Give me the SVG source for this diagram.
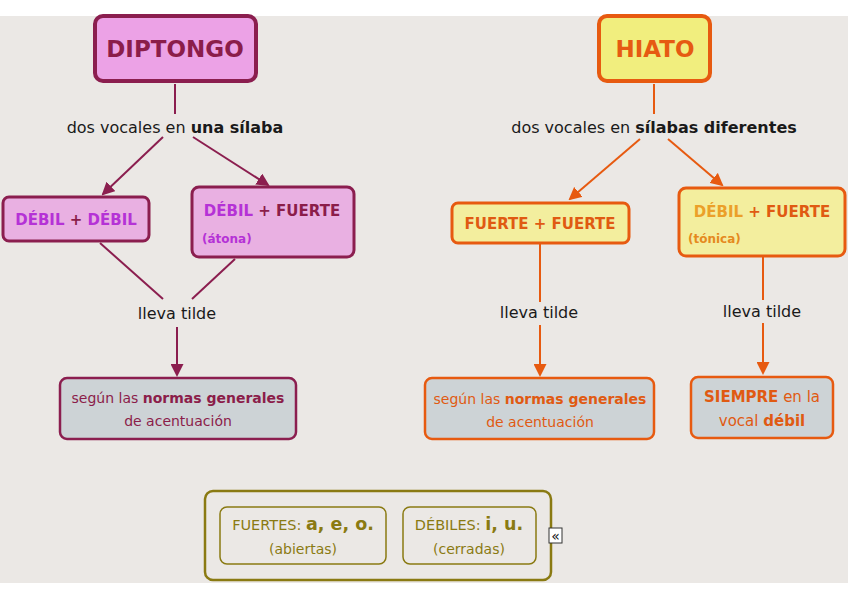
<svg xmlns="http://www.w3.org/2000/svg" width="848" height="599" viewBox="0 0 848 599">
<defs>
<style>
text{font-family:"DejaVu Sans","Noto Sans",sans-serif;text-anchor:middle}
.t{font-size:16px;fill:#1a1a1a}
.b{font-weight:bold}
.pk{fill:#eca2e6;stroke:#8b1e4f;stroke-width:4}
.pk2{fill:#e9b0e2;stroke:#8b1e4f;stroke-width:3}
.ye{fill:#f1ee7e;stroke:#e75a10;stroke-width:4}
.ye2{fill:#f3ee9e;stroke:#e75a10;stroke-width:3}
.gm{fill:#cdd3d6;stroke:#8b1e4f;stroke-width:2.5}
.go{fill:#cdd3d6;stroke:#e75a10;stroke-width:2.5}
.ol{fill:none;stroke:#8a7a12;stroke-width:2.5}
.ol2{fill:none;stroke:#8a7a12;stroke-width:1.5}
.lm{stroke:#8b1e4f;stroke-width:2;fill:none}
.lo{stroke:#e75a10;stroke-width:2;fill:none}
</style>
<marker id="am" markerWidth="13" markerHeight="13" refX="11" refY="6.5" orient="auto" markerUnits="userSpaceOnUse" viewBox="0 0 13 13"><path d="M0,0 L13,6.5 L0,13 z" fill="#8b1e4f"/></marker>
<marker id="ao" markerWidth="13" markerHeight="13" refX="11" refY="6.5" orient="auto" markerUnits="userSpaceOnUse" viewBox="0 0 13 13"><path d="M0,0 L13,6.5 L0,13 z" fill="#e75a10"/></marker>
</defs>
<rect x="0" y="0" width="848" height="599" fill="#ffffff"/>
<rect x="0" y="16" width="848" height="567" fill="#ebe8e5"/>

<g id="connectors">
<line class="lm" x1="175" y1="84" x2="175" y2="114"/>
<line class="lm" x1="163" y1="137" x2="103" y2="194" marker-end="url(#am)"/>
<line class="lm" x1="193" y1="137" x2="268" y2="185" marker-end="url(#am)"/>
<line class="lm" x1="100" y1="243" x2="163" y2="299"/>
<line class="lm" x1="235" y1="259" x2="192" y2="299"/>
<line class="lm" x1="177" y1="327" x2="177" y2="375" marker-end="url(#am)"/>
<line class="lo" x1="654" y1="84" x2="654" y2="114"/>
<line class="lo" x1="640" y1="139" x2="570" y2="199" marker-end="url(#ao)"/>
<line class="lo" x1="668" y1="139" x2="722" y2="185" marker-end="url(#ao)"/>
<line class="lo" x1="540" y1="244" x2="540" y2="302"/>
<line class="lo" x1="540" y1="325" x2="540" y2="375" marker-end="url(#ao)"/>
<line class="lo" x1="763" y1="257" x2="763" y2="300"/>
<line class="lo" x1="763" y1="323" x2="763" y2="373" marker-end="url(#ao)"/>
</g>

<g id="diptongo">
<rect class="pk" x="95" y="16" width="161" height="65" rx="8"/>
<text x="175" y="57" font-size="23" class="b" fill="#8b1d4a">DIPTONGO</text>
</g>
<g id="lbl-diptongo">
<text class="t" x="175" y="133">dos vocales en <tspan class="b">una sílaba</tspan></text>
</g>
<g id="debil-debil">
<rect class="pk2" x="3" y="197" width="146" height="44" rx="6"/>
<text x="76" y="225" font-size="15" class="b" fill="#b532d6">DÉBIL <tspan fill="#8b1d4a">+</tspan> DÉBIL</text>
</g>
<g id="debil-fuerte-a">
<rect class="pk2" x="192" y="187" width="162" height="70" rx="7"/>
<text x="272" y="216" font-size="15" class="b" fill="#b532d6">DÉBIL <tspan fill="#8b1d4a">+ FUERTE</tspan></text>
<text x="202" y="243" font-size="12" class="b" fill="#b532d6" style="text-anchor:start">(átona)</text>
</g>
<g id="lleva1">
<text class="t" x="177" y="319" font-size="15">lleva tilde</text>
</g>
<g id="normas1">
<rect class="gm" x="60" y="378" width="236" height="61" rx="7"/>
<text x="178" y="403" font-size="14" fill="#8b1d4a">según las <tspan class="b">normas generales</tspan></text>
<text x="178" y="426" font-size="14" fill="#8b1d4a">de acentuación</text>
</g>

<g id="hiato">
<rect class="ye" x="599" y="16" width="111" height="65" rx="8"/>
<text x="655" y="57" font-size="23" class="b" fill="#e65a12">HIATO</text>
</g>
<g id="lbl-hiato">
<text class="t" x="654" y="133">dos vocales en <tspan class="b">sílabas diferentes</tspan></text>
</g>
<g id="fuerte-fuerte">
<rect class="ye2" x="452" y="203" width="177" height="40" rx="6"/>
<text x="540" y="229" font-size="15" class="b" fill="#e05a12">FUERTE + FUERTE</text>
</g>
<g id="debil-fuerte-t">
<rect class="ye2" x="679" y="188" width="166" height="68" rx="7"/>
<text x="762" y="217" font-size="15" class="b" fill="#eba029">DÉBIL <tspan fill="#e05a12">+ FUERTE</tspan></text>
<text x="688" y="243" font-size="12" class="b" fill="#e58a1e" style="text-anchor:start">(tónica)</text>
</g>
<g id="lleva2">
<text class="t" x="539" y="318" font-size="15">lleva tilde</text>
</g>
<g id="lleva3">
<text class="t" x="762" y="317" font-size="15">lleva tilde</text>
</g>
<g id="normas2">
<rect class="go" x="425" y="378" width="229" height="61" rx="7"/>
<text x="540" y="404" font-size="14" fill="#e05a12">según las <tspan class="b">normas generales</tspan></text>
<text x="540" y="427" font-size="14" fill="#e05a12">de acentuación</text>
</g>
<g id="siempre">
<rect class="go" x="691" y="377" width="142" height="61" rx="7"/>
<text x="762" y="402" font-size="15" fill="#e05a12"><tspan class="b">SIEMPRE</tspan> en la</text>
<text x="762" y="426" font-size="15" fill="#e05a12">vocal <tspan class="b">débil</tspan></text>
</g>

<g id="legend">
<rect class="ol" x="205" y="491" width="346" height="89" rx="8"/>
<rect class="ol2" x="220" y="507" width="166" height="57" rx="7"/>
<rect class="ol2" x="403" y="507" width="133" height="57" rx="7"/>
<text x="303" y="530" font-size="14.5" fill="#8a7a12">FUERTES: <tspan class="b" font-size="17.5">a, e, o.</tspan></text>
<text x="303" y="554" font-size="14" fill="#8a7a12">(abiertas)</text>
<text x="469" y="530" font-size="14.5" fill="#8a7a12">DÉBILES: <tspan class="b" font-size="17.5">i, u.</tspan></text>
<text x="469" y="554" font-size="14" fill="#8a7a12">(cerradas)</text>
<rect x="549" y="528" width="13" height="15" fill="#ffffff" stroke="#333" stroke-width="1"/>
<text x="555.5" y="541" font-size="14" fill="#111">«</text>
</g>
</svg>
